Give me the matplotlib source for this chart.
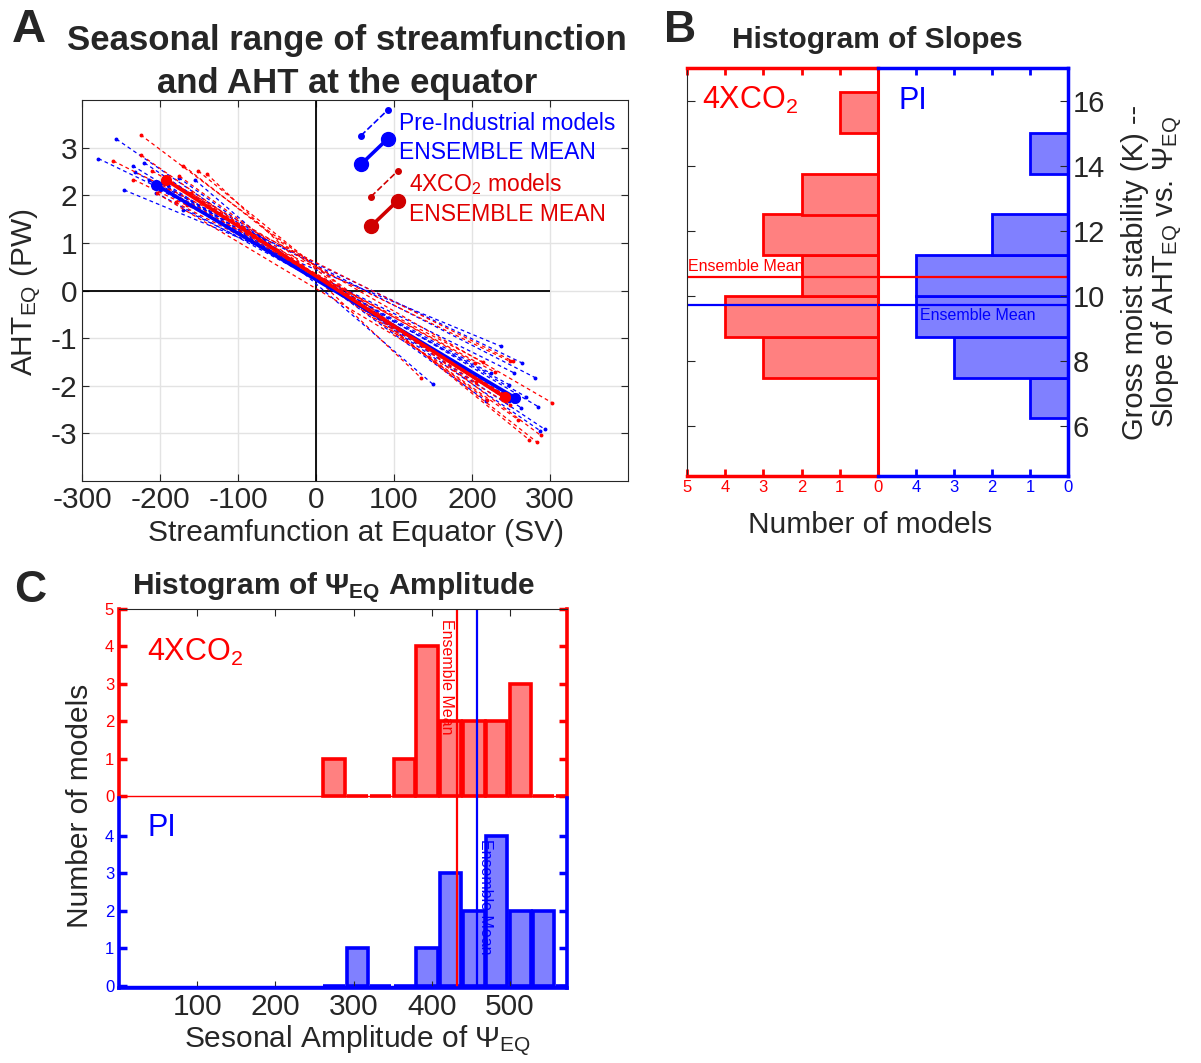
import numpy as np
import matplotlib
matplotlib.use('Agg')
import matplotlib.pyplot as plt
from matplotlib.lines import Line2D
from matplotlib.legend_handler import HandlerBase

plt.rcParams['font.family'] = ['Liberation Sans', 'DejaVu Sans']
plt.rcParams['mathtext.fontset'] = 'custom'
plt.rcParams['mathtext.rm'] = 'Liberation Sans'
plt.rcParams['mathtext.it'] = 'Liberation Sans:italic'
plt.rcParams['mathtext.bf'] = 'Liberation Sans:bold'
plt.rcParams['axes.unicode_minus'] = False

# ---- panel A: seasonal range lines, one per model ----
pi_psi_min = [-155, -256, -279, -232, -220, -246, -214, -198, -235, -205, -190, -170, -177, -200, -176]
pi_psi_max = [150, 287, 264, 281, 293, 237, 269, 285, 248, 248, 263, 254, 247, 224, 218]
pi_aht_min = [2.32, 3.18, 2.77, 2.48, 2.68, 2.11, 2.31, 2.25, 2.62, 2.05, 2.21, 1.70, 2.17, 2.12, 2.37]
pi_aht_max = [-1.97, -2.94, -1.52, -1.83, -2.91, -1.17, -2.23, -2.44, -2.26, -1.98, -2.46, -1.73, -2.32, -1.74, -2.32]

co2_psi_min = [-140, -225, -260, -210, -234, -224, -170, -204, -151, -185, -180, -165, -190, -175, -160]
co2_psi_max = [135, 288, 253, 303, 249, 259, 283, 249, 273, 239, 214, 229, 204, 219, 205]
co2_aht_min = [2.45, 3.27, 2.72, 2.51, 2.33, 2.84, 2.62, 2.04, 2.51, 2.25, 1.85, 1.80, 2.10, 2.40, 2.05]
co2_aht_max = [-1.84, -3.04, -1.49, -2.36, -1.49, -2.71, -3.18, -2.40, -3.13, -2.16, -1.50, -1.71, -1.52, -2.29, -1.93]

pi_mean_psi = [-205, 255]
pi_mean_aht = [2.22, -2.25]
co2_mean_psi = [-192, 242]
co2_mean_aht = [2.32, -2.24]

# ---- panel B: histogram of slopes (GMS) ----
slope_bins = [6.85, 8.10, 9.36, 10.61, 11.87, 13.12, 14.37, 15.63]
slope_width = 1.254
slope_counts_co2 = [0, 3, 4, 2, 3, 2, 0, 1]
slope_counts_pi = [1, 3, 4, 4, 2, 0, 1, 0]
slope_mean_co2 = 10.57
slope_mean_pi = 9.72

# ---- panel C: histogram of amplitude ----
amp_bins = [275, 305, 335, 365, 394, 424, 454, 483, 513, 543, 573]
amp_counts_co2 = [1, 0, 0, 1, 4, 2, 2, 2, 3, 0, 0]
amp_counts_pi = [0, 1, 0, 0, 1, 3, 2, 4, 2, 2, 0]
amp_mean_co2 = 432
amp_mean_pi = 458

RED = '#FF0000'
BLUE = '#0000FF'
DARK = '#262626'
W, H = 1201, 1063


def fx(px):
    return px / W


def fy(py):
    return 1 - py / H


def box(x0, y0, x1, y1):
    return [fx(x0), fy(y1), (x1 - x0) / W, (y1 - y0) / H]


class DiagHandler(HandlerBase):
    # legend key drawn as a short diagonal segment, like the original
    def create_artists(self, legend, orig, xdescent, ydescent, width, height, fontsize, trans):
        x = [-xdescent + 0.1 * width, -xdescent + width]
        y = [-ydescent - 0.35 * height, -ydescent + 1.25 * height]
        ln = Line2D(x, y, color=orig.get_color(), linestyle=orig.get_linestyle(),
                    linewidth=orig.get_linewidth(), marker='o', markersize=orig.get_markersize())
        ln.set_transform(trans)
        return [ln]


fig = plt.figure(figsize=(12.01, 10.63), dpi=100)

# ================= A =================
axA = fig.add_axes(box(82, 100, 628, 481))
axA.set_xlim(-300, 400)
axA.set_ylim(-4, 4)
axA.set_xticks([-300, -200, -100, 0, 100, 200, 300])
axA.set_yticks([-3, -2, -1, 0, 1, 2, 3])
axA.grid(True, color='#E3E3E3', lw=1)
axA.set_axisbelow(True)
axA.tick_params(direction='in', top=True, right=True, labelsize=21.5, colors=DARK, length=5)
for s in axA.spines.values():
    s.set_color(DARK)
axA.hlines(0, -300, 300, color='black', lw=1.3)
axA.axvline(0, color='black', lw=1.3)

for i in range(len(pi_psi_min)):
    axA.plot([pi_psi_min[i], pi_psi_max[i]], [pi_aht_min[i], pi_aht_max[i]], color=BLUE,
             ls=(0, (3, 2.5)), lw=0.9, marker='o', ms=1.8)
for i in range(len(co2_psi_min)):
    axA.plot([co2_psi_min[i], co2_psi_max[i]], [co2_aht_min[i], co2_aht_max[i]], color=RED,
             ls=(0, (3, 2.5)), lw=0.9, marker='o', ms=1.8)
axA.plot(pi_mean_psi, pi_mean_aht, color=BLUE, lw=2.6, marker='o', ms=7)
axA.plot(co2_mean_psi, co2_mean_aht, color=RED, lw=2.6, marker='o', ms=7)

h1 = Line2D([], [], color=BLUE, ls=(0, (2, 2)), lw=1.2, ms=4)
h2 = Line2D([], [], color=BLUE, lw=2.6, ms=10)
h3 = Line2D([], [], color='#D00000', ls=(0, (2, 2)), lw=1.2, ms=4)
h4 = Line2D([], [], color='#D00000', lw=2.6, ms=10)
leg1 = axA.legend([h1, h2], ['Pre-Industrial models', 'ENSEMBLE MEAN'],
                  handler_map={Line2D: DiagHandler()}, loc='upper left',
                  bbox_to_anchor=(fx(358), fy(112)), bbox_transform=fig.transFigure,
                  frameon=False, fontsize=16.5, labelcolor=BLUE, handlelength=1.3,
                  handletextpad=0.5, labelspacing=0.25, borderpad=0, borderaxespad=0)
axA.add_artist(leg1)
axA.legend([h3, h4], ['4XCO$_2$ models', 'ENSEMBLE MEAN'],
           handler_map={Line2D: DiagHandler()}, loc='upper left',
           bbox_to_anchor=(fx(368), fy(171)), bbox_transform=fig.transFigure,
           frameon=False, fontsize=16.5, labelcolor='#E00000', handlelength=1.3,
           handletextpad=0.5, labelspacing=0.25, borderpad=0, borderaxespad=0)

fig.text(fx(29), fy(30), 'A', fontsize=34, fontweight='bold', ha='center', va='center', color=DARK)
fig.text(fx(347), fy(62), 'Seasonal range of streamfunction\nand AHT at the equator', fontsize=25,
         fontweight='bold', ha='center', va='center', linespacing=1.4, color=DARK)
fig.text(fx(356), fy(533), 'Streamfunction at Equator (SV)', fontsize=21.5, ha='center', va='center', color=DARK)
fig.text(fx(26), fy(292), 'AHT$_{\\mathrm{EQ}}$ (PW)', fontsize=21.5, ha='center', va='center',
         rotation=90, color=DARK)

# ================= B =================
axBr = fig.add_axes(box(687, 68, 878, 476))
axBb = fig.add_axes(box(878, 68, 1068, 476))
for ax in (axBr, axBb):
    ax.set_xlim(5, 0)
    ax.set_ylim(4.45, 17)
    ax.set_yticks([6, 8, 10, 12, 14, 16])
    ax.patch.set_alpha(0)

axBr.barh(slope_bins, slope_counts_co2, height=slope_width, color='#FF8080', edgecolor=RED, lw=2)
axBb.barh(slope_bins, slope_counts_pi, height=slope_width, color='#8080FF', edgecolor=BLUE, lw=2)

for ax in (axBr, axBb):
    ax.axhline(slope_mean_co2, color=RED, lw=1.6)
    ax.axhline(slope_mean_pi, color=BLUE, lw=1.6)

axBr.set_xticks([0, 1, 2, 3, 4, 5])
axBr.tick_params(axis='x', direction='in', top=True, bottom=True, colors=RED, labelsize=12,
                 width=2, length=5, pad=3)
axBr.tick_params(axis='y', direction='in', left=True, right=False, labelleft=False, color=DARK, length=6)
axBr.spines['top'].set_color(RED)
axBr.spines['bottom'].set_color(RED)
axBr.spines['right'].set_color(RED)
axBr.spines['top'].set_linewidth(2.5)
axBr.spines['bottom'].set_linewidth(2.5)
axBr.spines['right'].set_linewidth(2.2)
axBr.spines['left'].set_color(DARK)

axBb.set_xticks([0, 1, 2, 3, 4])
axBb.tick_params(axis='x', direction='in', top=True, bottom=True, colors=BLUE, labelsize=12,
                 width=2, length=5, pad=3)
axBb.tick_params(axis='y', direction='in', left=False, right=True, labelleft=False, labelright=True,
                 labelsize=21, color=DARK, labelcolor=DARK, length=6)
for k in ('top', 'bottom', 'right'):
    axBb.spines[k].set_color(BLUE)
    axBb.spines[k].set_linewidth(2.5)
axBb.spines['left'].set_visible(False)

axBr.text(4.98, slope_mean_co2 + 0.08, 'Ensemble Mean', color=RED, fontsize=11.5, ha='left', va='bottom')
axBb.text(3.9, slope_mean_pi - 0.1, 'Ensemble Mean', color=BLUE, fontsize=11.5, ha='left', va='top')
axBr.text(4.6, 16.0, '4XCO$_2$', color=RED, fontsize=22, ha='left', va='center')
axBb.text(4.47, 16.0, 'PI', color=BLUE, fontsize=22, ha='left', va='center')

fig.text(fx(680), fy(30), 'B', fontsize=32, fontweight='bold', ha='center', va='center', color=DARK)
fig.text(fx(877), fy(40), 'Histogram of Slopes', fontsize=21.5, fontweight='bold', ha='center',
         va='center', color=DARK)
fig.text(fx(870), fy(525), 'Number of models', fontsize=21.5, ha='center', va='center', color=DARK)
fig.text(fx(1153), fy(272), 'Gross moist stability (K) --\nSlope of AHT$_{\\mathrm{EQ}}$ vs. \u03a8$_{\\mathrm{EQ}}$',
         fontsize=21, ha='center', va='center', rotation=90, linespacing=1.05, color=DARK)

# ================= C =================
axCr = fig.add_axes(box(119, 609, 567, 798))
axCb = fig.add_axes(box(119, 798, 567, 988))
for ax in (axCr, axCb):
    ax.set_xlim(0, 573)
    ax.set_ylim(-0.05, 5)
    ax.set_xticks([100, 200, 300, 400, 500])
    ax.patch.set_alpha(0)

axCr.bar(amp_bins, amp_counts_co2, width=27, color='#FF8080', edgecolor=RED, lw=2.6)
axCb.bar(amp_bins, amp_counts_pi, width=27, color='#8080FF', edgecolor=BLUE, lw=2.6)
axCr.axhline(0, color=RED, lw=1, zorder=0.5)
axCb.axhline(0, color=BLUE, lw=1, zorder=0.5)
for ax in (axCr, axCb):
    ax.axvline(amp_mean_co2, color=RED, lw=1.6)
    ax.axvline(amp_mean_pi, color=BLUE, lw=1.6)

axCr.set_yticks([0, 1, 2, 3, 4, 5])
axCr.tick_params(axis='y', direction='in', left=True, right=True, colors=RED, labelsize=12,
                 width=2.5, length=6)
axCr.tick_params(axis='x', direction='in', top=True, bottom=False, labelbottom=False, color=DARK, length=5)
axCr.spines['left'].set_color(RED)
axCr.spines['right'].set_color(RED)
axCr.spines['left'].set_linewidth(2.6)
axCr.spines['right'].set_linewidth(2.6)
axCr.spines['top'].set_color(DARK)
axCr.spines['bottom'].set_visible(False)

axCb.set_yticks([0, 1, 2, 3, 4])
axCb.tick_params(axis='y', direction='in', left=True, right=True, colors=BLUE, labelsize=12,
                 width=2.5, length=6)
axCb.tick_params(axis='x', direction='in', top=False, bottom=True, color=DARK, labelcolor=DARK,
                 labelsize=21.5, length=5)
for k in ('left', 'right', 'bottom'):
    axCb.spines[k].set_color(BLUE)
    axCb.spines[k].set_linewidth(2.6)
axCb.spines['top'].set_visible(False)

axCr.text(amp_mean_co2 - 3, 4.72, 'Ensemble Mean', color=RED, fontsize=11.5, rotation=-90,
          ha='right', va='top')
axCb.text(amp_mean_pi + 1, 3.9, 'Ensemble Mean', color=BLUE, fontsize=11.5, rotation=-90,
          ha='left', va='top')
axCr.text(36, 3.85, '4XCO$_2$', color=RED, fontsize=22, ha='left', va='center')
axCb.text(36, 4.2, 'PI', color=BLUE, fontsize=22, ha='left', va='center')

fig.text(fx(30), fy(590), 'C', fontsize=32, fontweight='bold', ha='center', va='center', color=DARK)
fig.text(fx(334), fy(588), 'Histogram of \u03a8$_{\\mathbf{EQ}}$ Amplitude', fontsize=21.5,
         fontweight='bold', ha='center', va='center', color=DARK)
fig.text(fx(80), fy(806), 'Number of models', fontsize=21.5, ha='center', va='center', rotation=90, color=DARK)
fig.text(fx(358), fy(1041), 'Sesonal Amplitude of \u03a8$_{\\mathrm{EQ}}$', fontsize=21.5, ha='center',
         va='center', color=DARK)

fig.savefig('out.png', dpi=100)
